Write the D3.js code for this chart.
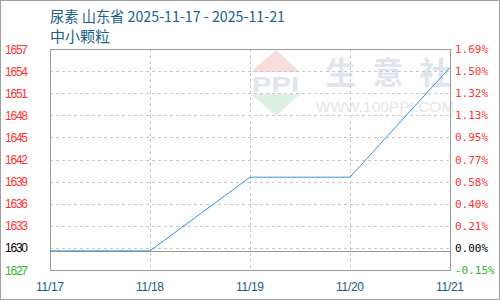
<!DOCTYPE html>
<html><head><meta charset="utf-8">
<script src="https://cdn.jsdelivr.net/npm/d3@7"></script>
<style>body{margin:0;background:#fff}svg{display:block}</style>
</head><body>
<svg id="c" width="500" height="300"></svg>
<script>
const dates = ["11/17","11/18","11/19","11/20","11/21"];
const prices = [1629.6, 1629.6, 1639.6, 1639.6, 1654.5];
const leftTicks = [1627,1630,1633,1636,1639,1642,1645,1648,1651,1654,1657];
const rightTicks = ["-0.15%","0.00%","0.21%","0.40%","0.58%","0.77%","0.95%","1.13%","1.32%","1.50%","1.69%"];
const titleLine1 = "尿素 山东省 2025-11-17 - 2025-11-21";
const titleLine2 = "中小颗粒";
const wmChars = ["生","意","社"];

const svg = d3.select("#c");
const L=50,R=450,T=49,B=270;
const x = d3.scalePoint().domain(dates).range([L,R]);
const y = d3.scaleLinear().domain([1627,1657]).range([B,T]);

svg.append("rect").attr("x",0.5).attr("y",0.5).attr("width",499).attr("height",299)
  .attr("fill","#fff").attr("stroke","#a0a0a0");

// watermark
const wm = svg.append("g");
wm.append("path").attr("d","M276,50 L300,72 L251,72 Z").attr("fill","#f9dcdc");
wm.append("path").attr("d","M251,94 L300,94 L276,116 Z").attr("fill","#dcf1df");
wm.append("text").attr("x",252).attr("y",92)
  .attr("font-family","Liberation Sans, Arial").attr("font-weight","bold").attr("font-size",22)
  .attr("textLength",47).attr("lengthAdjust","spacingAndGlyphs").attr("fill","#dfe4ef").text("PPI");
wm.selectAll("text.wc").data(wmChars).join("text").attr("class","wc")
  .attr("x",(d,i)=>341+i*47).attr("y",84).attr("text-anchor","middle").attr("font-family","Noto Sans CJK SC")
  .attr("font-size",31).attr("font-weight","bold").attr("fill","#dfe4ef").text(d=>d);
wm.append("text").attr("x",385).attr("y",112).attr("text-anchor","middle").attr("font-family","Liberation Sans, Arial")
  .attr("font-size",15.5).attr("fill","#e6e6e6").text("WWW.100PPI.COM");

// grid
const grid = svg.append("g").attr("stroke","#c8c8c8").attr("stroke-dasharray","3,3").attr("shape-rendering","crispEdges");
leftTicks.forEach(t=>{ grid.append("line").attr("x1",L).attr("x2",R).attr("y1",Math.round(y(t))+0.5).attr("y2",Math.round(y(t))+0.5); });
dates.forEach(d=>{ grid.append("line").attr("y1",T).attr("y2",B).attr("x1",Math.round(x(d))+0.5).attr("x2",Math.round(x(d))+0.5); });

// base line (0%)
svg.append("line").attr("x1",L).attr("x2",R).attr("y1",Math.round(y(prices[0]))+0.5).attr("y2",Math.round(y(prices[0]))+0.5)
  .attr("stroke","#999").attr("shape-rendering","crispEdges");

// frame
svg.append("rect").attr("x",L+0.5).attr("y",T+0.5).attr("width",R-L).attr("height",B-T)
  .attr("fill","none").attr("stroke","#999").attr("shape-rendering","crispEdges");

// line
svg.append("path").datum(prices)
  .attr("d",d3.line().x((d,i)=>x(dates[i])).y(d=>y(d)))
  .attr("fill","none").attr("stroke","#3a93d6").attr("stroke-width",1);

// left labels
const col = (i)=> i===0 ? "#33b033" : (i===1 ? "#000" : "#ff3333");
svg.append("g").selectAll("text").data(leftTicks).join("text")
  .attr("x",5).attr("y",d=>y(d)+4.5).attr("font-family","Liberation Sans, Arial").attr("font-size",12)
  .attr("textLength",23).attr("fill",(d,i)=>col(i)).text(d=>d);
// right labels
svg.append("g").selectAll("text").data(rightTicks).join("text")
  .attr("x",455).attr("y",(d,i)=>y(leftTicks[i])+4).attr("font-family","DejaVu Sans Mono, monospace").attr("font-size",11)
  .attr("fill",(d,i)=>col(i)).text(d=>d);
// x labels
svg.append("g").selectAll("text").data(dates).join("text")
  .attr("x",d=>x(d)).attr("y",291).attr("text-anchor","middle").attr("font-family","Liberation Sans, Arial")
  .attr("font-size",12).attr("textLength",28).attr("fill","#1b5a86").text(d=>d);

// titles
svg.append("text").attr("x",50).attr("y",22).attr("font-family","Noto Sans CJK SC, sans-serif").attr("font-size",15)
  .attr("textLength",235).attr("lengthAdjust","spacingAndGlyphs").attr("fill","#1b5f8c").text(titleLine1);
svg.append("text").attr("x",50).attr("y",42).attr("font-family","Noto Sans CJK SC, sans-serif").attr("font-size",15)
  .attr("fill","#1b5f8c").text(titleLine2);
</script>
</body></html>
